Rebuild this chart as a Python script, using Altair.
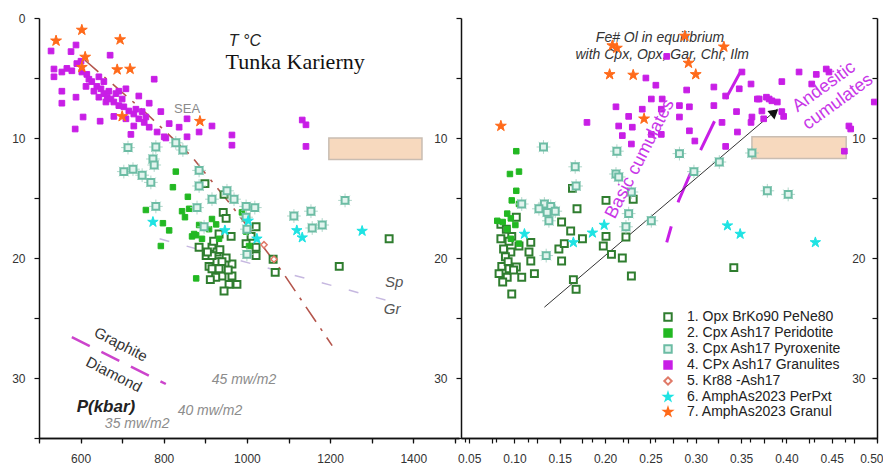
import altair as alt
import pandas as pd

SERIES = ["1. Opx BrKo90 PeNe80", "2. Cpx Ash17 Peridotite", "3. Cpx Ash17 Pyroxenite",
          "4. CPx Ash17 Granulites", "5. Kr88 -Ash17", "6. AmphAs2023 PerPxt", "7. AmphAs2023 Granul"]

# ---------------- left panel: T (C) vs P (kbar) ----------------
opx_L = [(899,13.8),(945,14.7),(943,16.2),(950,16.7),(933,18.0),(962,18.2),(885,19.1),(902,19.8),(916,19.1),
         (928,19.5),(928,20.3),(909,20.7),(926,21.1),(940,21.5),(916,20.9),(933,20.9),(964,20.5),(964,21.5),
         (957,22.2),(976,22.2),(945,22.75),(916,19.8),(998,18.8),(1022,19.1),(1022,19.8),(1063,20.1),(1068,21.2),
         (1222,20.7),(1342,18.4),(1022,17.4),(1010,18.2),(920,18.6),(935,19.3),(905,19.5),(950,20.0),(940,20.3),
         (925,21.6),(955,21.0),(912,21.8)]
per_L = [(829,12.8),(822,14.1),(858,14.9),(757,16.0),(798,17.1),(813,17.7),(793,19.0),(878,21.7),(916,16.75),
         (844,16.1),(861,15.9),(868,18.2),(878,18.1),(892,18.4),(873,18.0),(909,17.6),(926,17.2),(933,18.4),
         (988,16.2),(998,17.8),(1005,19.0),(851,16.6),(885,17.25)]
pyx_L = [(714,10.8),(781,10.75),(774,11.75),(777,12.25),(704,12.8),(726,12.6),(748,13.1),(769,13.7),(829,10.4),
         (846,11.0),(885,12.7),(885,14.0),(916,15.1),(952,14.4),(969,15.1),(998,15.7),(1019,15.8),(781,15.7),
         (1113,16.5),(1154,16.1),(1236,15.2),(1157,17.5),(1181,17.25),(1000,17.6),(880,15.8),(897,17.4),
         (1000,19.7),(998,16.6)]
gra_L = [(529,2.75),(589,2.25),(577,2.8),(671,3.1),(536,4.25),(536,4.9),(555,4.5),(567,4.2),(579,4.4),(591,3.8),
         (603,4.5),(615,4.7),(620,5.1),(627,5.3),(639,5.7),(649,5.9),(656,6.3),(664,6.6),(673,6.75),(680,7.0),
         (692,7.3),(704,7.4),(716,7.75),(728,8.0),(740,8.4),(753,8.7),(765,9.1),(777,5.1),(555,6.1),(555,7.1),
         (589,6.6),(606,8.25),(647,8.6),(587,9.25),(680,8.2),(709,8.4),(740,6.5),(765,7.1),(793,7.8),(813,8.8),
         (837,9.1),(856,8.4),(885,9.5),(916,9.0),(856,9.9),(721,9.7),(805,10.0),(964,9.75),(964,10.6),(1133,8.5),
         (1142,8.9),(1142,10.7),(656,5.3),(632,6.1),(613,5.7),(668,6.1),(685,6.3),(700,6.75),(692,6.1),(644,6.6),
         (661,7.0),(709,5.9),(733,7.6),(748,7.8),(757,8.25),(784,9.5),(801,9.9),(728,9.0),(601,3.6),(644,4.9)]
kr_L = [(1065,20.1),(1041,18.9)]
amp_L = [(774,17.0),(947,17.7),(1003,16.9),(1024,18.4),(1120,17.7),(1133,18.3),(1277,17.75)]
amg_L = [(603,1.0),(541,1.9),(695,1.8),(611,3.25),(603,4.1),(688,4.3),(719,4.25),(700,8.2),(887,8.6)]

# ---------------- right panel: Fe# Ol vs P (kbar) ----------------
opx_R = [(0.085,17.2),(0.091,17.6),(0.097,18.2),(0.085,18.4),(0.094,18.6),(0.088,19.25),(0.096,19.5),(0.086,20.7),
         (0.094,20.9),(0.083,21.3),(0.092,21.6),(0.102,20.75),(0.108,21.6),(0.122,21.3),(0.097,23.0),(0.118,18.7),
         (0.116,19.5),(0.118,20.25),(0.149,19.25),(0.152,20.25),(0.155,18.8),(0.152,17.0),(0.164,14.2),(0.169,15.9),
         (0.162,17.75),(0.175,18.4),(0.201,15.2),(0.231,15.1),(0.201,18.2),(0.198,19.0),(0.207,19.7),(0.219,20.0),
         (0.223,18.25),(0.165,21.8),(0.168,22.6),(0.229,21.5),(0.342,20.8),(0.102,16.6),(0.090,19.9),(0.099,21.0),
         (0.087,22.0),(0.105,19.0),(0.093,20.3)]
per_R = [(0.102,11.1),(0.095,13.0),(0.105,12.8),(0.102,14.4),(0.097,15.2),(0.105,15.5),(0.092,16.3),(0.096,16.7),
         (0.087,17.0),(0.101,17.25),(0.092,17.6),(0.105,18.8),(0.096,18.4),(0.081,16.9)]
pyx_R = [(0.132,10.75),(0.213,11.1),(0.282,11.3),(0.362,11.25),(0.167,12.4),(0.212,13.0),(0.298,12.8),(0.326,12.0),
         (0.133,15.5),(0.140,15.7),(0.136,16.2),(0.138,16.9),(0.108,15.5),(0.229,14.5),(0.226,16.3),(0.251,16.9),
         (0.379,14.4),(0.402,14.7),(0.168,14.0),(0.223,17.4),(0.135,19.8),(0.215,13.25),(0.127,15.9),(0.145,16.1)]
gra_R = [(0.180,8.7),(0.212,7.4),(0.226,8.2),(0.230,9.1),(0.215,9.0),(0.219,9.8),(0.229,10.5),(0.245,5.0),(0.256,5.6),
         (0.251,6.75),(0.263,6.75),(0.262,7.6),(0.241,7.6),(0.251,9.7),(0.262,9.7),(0.282,8.25),(0.282,7.3),(0.290,6.0),
         (0.293,7.4),(0.293,9.4),(0.299,10.25),(0.320,5.75),(0.320,7.3),(0.329,8.7),(0.333,6.5),(0.346,9.5),(0.348,5.9),
         (0.351,4.5),(0.361,5.5),(0.361,8.7),(0.370,6.75),(0.381,6.75),(0.390,7.0),(0.373,7.75),(0.395,7.8),(0.395,5.3),
         (0.414,4.5),(0.428,5.5),(0.444,4.25),(0.469,9.0),(0.464,11.1),(0.497,7.0),(0.268,3.2),(0.345,7.8),(0.333,10.7),
         (0.378,6.6),(0.384,6.9),(0.368,6.75),(0.433,4.7),(0.447,4.5),(0.471,9.25),(0.362,8.25),(0.375,8.4),(0.397,8.2)]
amp_R = [(0.111,18.0),(0.165,18.7),(0.186,17.9),(0.199,17.25),(0.335,17.3),(0.349,18.0),(0.432,18.7)]
amg_R = [(0.085,9.0),(0.208,2.3),(0.213,2.5),(0.205,4.7),(0.231,4.75),(0.288,1.5),(0.292,3.75),(0.300,4.7),
         (0.331,2.4),(0.243,8.4)]

# reference lines
sea_T = [610, 680, 760, 866, 960, 1084, 1205]
sea_P = [3.5, 5.6, 8.0, 11.5, 15.5, 21.1, 27.3]
spgr_T = [790, 1365]
spgr_P = [18.4, 23.8]
gd_T = [579, 805]
gd_P = [26.6, 30.5]
cum_F = [0.350, 0.333, 0.322, 0.306, 0.295, 0.281, 0.268]
cum_P = [4.4, 6.75, 8.4, 10.9, 12.8, 15.25, 18.7]
arrow_F = [0.133, 0.390]
arrow_P = [24.1, 7.6]

STAR = "M0,-1L0.2245,-0.309L0.951,-0.309L0.363,0.118L0.588,0.809L0,0.382L-0.588,0.809L-0.363,0.118L-0.951,-0.309L-0.2245,-0.309Z"
ASTER = "M0,-1L0,1M-1,0L1,0M-0.7,-0.7L0.7,0.7M-0.7,0.7L0.7,-0.7"
SHAPES = ["square", "square", "square", "square", "diamond", STAR, STAR]
STROKES = ["#2f7d2f", "#22b822", "#6cbca4", "#c81ee6", "#e07a68", "#1ee3e3", "#ff6a1a"]
FILLS = ["#ffffff", "#22b822", "#e2f4ee", "#c81ee6", "#ffffff", "#1ee3e3", "#ff6a1a"]
SIZES = [48, 30, 48, 32, 40, 120, 130]
SWIDTH = [2, 1, 2, 1, 1.5, 1, 1]

FONT = "Liberation Sans"
yscale = alt.Scale(domain=[0, 35], reverse=True, nice=False, zero=False)
xL = alt.Scale(domain=[500, 1510], nice=False, zero=False)
xR = alt.Scale(domain=[0.041, 0.5], nice=False, zero=False)
shape_sc = alt.Scale(domain=SERIES, range=SHAPES)
fill_sc = alt.Scale(domain=SERIES, range=FILLS)
stroke_sc = alt.Scale(domain=SERIES, range=STROKES)

def frame(pairs_list):
    rows = []
    for s, pairs in zip(SERIES, pairs_list):
        for x, y in pairs:
            rows.append({"x": x, "y": y, "s": s})
    return pd.DataFrame(rows)

def line_df(xs, ys):
    return pd.DataFrame({"x": xs, "y": ys, "i": list(range(len(xs)))})

def XY(xs, xa=None, ya=None):
    return dict(x=alt.X("x:Q", scale=xs, axis=xa, title=None),
                y=alt.Y("y:Q", scale=yscale, axis=ya, title=None))

def point_layers(df, xs, legend):
    layers = []
    for i, s in enumerate(SERIES):
        sub = df[df.s == s]
        if sub.empty:
            continue
        if i == 2:
            layers.append(alt.Chart(sub).mark_point(shape=ASTER, size=190, filled=False, stroke="#a9d3c5",
                                                    strokeWidth=1, opacity=0.9, clip=True).encode(**XY(xs)))
        layers.append(alt.Chart(sub).mark_point(size=SIZES[i], strokeWidth=SWIDTH[i], opacity=1, filled=True,
                                                clip=True).encode(
            **XY(xs),
            shape=alt.Shape("s:N", scale=shape_sc, legend=legend),
            fill=alt.Fill("s:N", scale=fill_sc, legend=legend),
            stroke=alt.Stroke("s:N", scale=stroke_sc, legend=legend)))
    return layers

def texts(xs, rows, **kw):
    df = pd.DataFrame(rows, columns=["x", "y", "t"])
    return alt.Chart(df).mark_text(font=kw.pop("font", FONT), **kw).encode(**XY(xs), text="t:N")

AX = dict(title=None, grid=False, tickSize=5)

# ---------------- left panel ----------------
xL_axis = alt.Axis(values=list(range(500, 1501, 100)), format="d", labelPadding=10,
                   labelExpr="(datum.value % 200 == 0 && datum.value >= 600 && datum.value <= 1400) ? datum.label : ''",
                   **AX)
yL_axis = alt.Axis(values=list(range(0, 36, 5)), labelPadding=9,
                   labelExpr="datum.value % 10 == 0 ? datum.label : ''", **AX)
xL_top = alt.Axis(orient="bottom", position=0, values=list(range(500, 1501, 100)), labels=False,
                  title=None, grid=False, tickSize=4)

rectL = alt.Chart(pd.DataFrame({"x": [1197], "x2": [1421], "y": [10.0], "y2": [11.8]})).mark_rect(
    fill="#f7d9be", stroke="#c9bdb2", strokeWidth=1.5).encode(
    **XY(xL, xL_axis, yL_axis), x2="x2:Q", y2="y2:Q")
seaL = alt.Chart(line_df(sea_T, sea_P)).mark_line(color="#b4554c", strokeWidth=1.6,
                                                   strokeDash=[18, 8, 3, 8]).encode(**XY(xL), order="i:Q")
spgrL = alt.Chart(line_df(spgr_T, spgr_P)).mark_line(color="#c6b8e0", strokeWidth=1.5,
                                                      strokeDash=[10, 18]).encode(**XY(xL), order="i:Q")
gdL = alt.Chart(line_df(gd_T, gd_P)).mark_line(color="#cc44cc", strokeWidth=2.5,
                                                strokeDash=[20, 13]).encode(**XY(xL, xL_top), order="i:Q")

txL = [
    texts(xL, [(995, 1.9, "T °C")], fontSize=16, fontStyle="italic", color="#222"),
    texts(xL, [(1116, 3.7, "Tunka Karierny")], font="Liberation Serif", fontSize=22, color="#111"),
    texts(xL, [(856, 7.6, "SEA")], fontSize=13, color="#8a8a8a"),
    texts(xL, [(1354, 22.0, "Sp"), (1349, 24.25, "Gr")], fontSize=15, fontStyle="italic", color="#555"),
    texts(xL, [(697, 27.2, "Graphite"), (680, 29.7, "Diamond")], fontSize=15, angle=27, color="#333"),
    texts(xL, [(661, 32.4, "P(kbar)")], fontSize=17, fontStyle="italic", fontWeight="bold", color="#222"),
    texts(xL, [(993, 30.2, "45 mw/m2"), (911, 32.75, "40 mw/m2"), (736, 33.8, "35 mw/m2")],
          fontSize=14, fontStyle="italic", color="#8c8c8c"),
]

left = alt.layer(rectL, seaL, spgrL, gdL,
                 *point_layers(frame([opx_L, per_L, pyx_L, gra_L, kr_L, amp_L, amg_L]), xL, None),
                 *txL).resolve_axis(x="independent", y="independent").properties(width=420, height=420)

# ---------------- right panel ----------------
fr_vals = [round(0.05 + 0.025 * i, 3) for i in range(19)]
xR_axis = alt.Axis(values=fr_vals, labelPadding=10, labelFlush=True, labelFlushOffset=6,
                   labelExpr="abs(datum.value * 20 - round(datum.value * 20)) < 0.001 ? format(datum.value, '.2f') : ''",
                   **AX)
yR_axis = alt.Axis(values=list(range(0, 36, 5)), labelPadding=9,
                   labelExpr="(datum.value % 10 == 0 && datum.value > 0) ? datum.label : ''", **AX)
yR_right = alt.Axis(orient="left", offset=-416, values=list(range(0, 36, 5)), labelPadding=7,
                    labelExpr="(datum.value % 10 == 0 && datum.value > 0) ? datum.label : ''", **AX)
xR_top = alt.Axis(orient="bottom", position=0, values=[round(0.045 + 0.035 * i, 3) for i in range(14)],
                  labels=False, title=None, grid=False, tickSize=4)

legend = alt.Legend(orient="none", legendX=200, legendY=292, title=None, labelFont=FONT, labelFontSize=14,
                    labelColor="#222", rowPadding=0, labelOffset=12, symbolSize=55, symbolStrokeWidth=2)

rectR = alt.Chart(pd.DataFrame({"x": [0.362], "x2": [0.466], "y": [9.9], "y2": [11.7]})).mark_rect(
    fill="#f7d9be", stroke="#c9bdb2", strokeWidth=1.5).encode(
    **XY(xR, xR_axis, yR_axis), x2="x2:Q", y2="y2:Q")
cumR = alt.Chart(line_df(cum_F, cum_P)).mark_line(color="#c81ee6", strokeWidth=3,
                                                   strokeDash=[32, 25]).encode(**XY(xR), order="i:Q")
arrowR = alt.Chart(line_df(arrow_F, arrow_P)).mark_line(color="#333", strokeWidth=1).encode(
    **XY(xR, xR_top, yR_right), order="i:Q")
headR = alt.Chart(pd.DataFrame({"x": [0.387], "y": [7.85]})).mark_point(
    shape="triangle-up", angle=50, size=120, filled=True, color="#111", opacity=1).encode(**XY(xR))

txR_top = [
    texts(xR, [(0.2606, 1.67, "Fe# Ol in equilibrium"), (0.263, 3.1, "with Cpx, Opx, Gar, Chr, Ilm")],
          fontSize=14, fontStyle="italic", color="#333"),
]
txR_cum = [
    texts(xR, [(0.2386, 11.75, "Basic cumulates")], fontSize=18, angle=297, color="#c837e8"),
    texts(xR, [(0.4417, 5.75, "Andesitic"), (0.457, 7.0, "cumulates")], fontSize=18, angle=324, color="#c837e8"),
]

right = alt.layer(rectR, *txR_top, cumR, arrowR,
                  *point_layers(frame([opx_R, per_R, pyx_R, gra_R, [], amp_R, amg_R]), xR, legend),
                  headR, *txR_cum).resolve_axis(x="independent", y="independent").properties(width=416, height=420)

chart = alt.hconcat(left, right, spacing=2, bounds="flush").resolve_scale(
    shape="independent", fill="independent", stroke="independent").resolve_legend(
    shape="independent", fill="independent", stroke="independent").properties(
    padding={"left": 3, "top": 4, "right": 0, "bottom": 0}).configure_view(strokeWidth=0).configure_axis(
    labelFont=FONT, labelFontSize=12, labelColor="#333", domainColor="#111", domainWidth=1.5,
    tickColor="#111", tickWidth=1.2)

chart.save("out.html", embed_options={"renderer": "svg", "actions": False})
